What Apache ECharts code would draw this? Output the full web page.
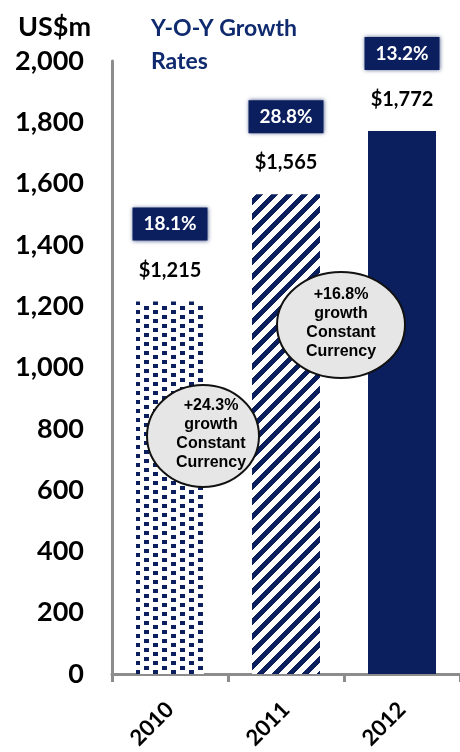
<!DOCTYPE html>
<html>
<head>
<meta charset="utf-8">
<script src="https://cdn.jsdelivr.net/npm/echarts@6/dist/echarts.min.js"></script>
<style>
  html, body { margin: 0; padding: 0; background: #fff; }
  #chart { width: 460px; height: 752px; }
</style>
</head>
<body>
<div id="chart"></div>
<script>
// Revenue by year (US$m) and year-on-year growth
const years = ['2010', '2011', '2012'];
const revenue = [1215, 1565, 1772];
const yoyGrowth = ['18.1%', '28.8%', '13.2%'];
// Constant-currency growth callouts
const ccGrowth = ['+24.3%', '+16.8%'];
const yTicks = [0, 200, 400, 600, 800, 1000, 1200, 1400, 1600, 1800, 2000];

const NAVY = '#0b1f5e';
const FONT = 'Lato, "Open Sans", sans-serif';

// Tile with staggered small squares
function dotTile() {
  const c = document.createElement('canvas');
  c.width = 18; c.height = 18;
  const g = c.getContext('2d');
  g.fillStyle = '#fff'; g.fillRect(0, 0, 18, 18);
  g.fillStyle = NAVY;
  [[0, 0], [9, 4], [0, 9], [9, 13]].forEach(([x, y]) => g.fillRect(x, y, 5, 4));
  return c;
}
// Tile with wide up-right diagonal stripes
function stripeTile() {
  const n = 15;
  const c = document.createElement('canvas');
  c.width = n; c.height = n;
  const g = c.getContext('2d');
  const img = g.createImageData(n, n);
  for (let y = 0; y < n; y++) {
    for (let x = 0; x < n; x++) {
      const on = ((x + y) % n) < 7;
      const i = (y * n + x) * 4;
      img.data[i] = on ? 11 : 255;
      img.data[i + 1] = on ? 31 : 255;
      img.data[i + 2] = on ? 94 : 255;
      img.data[i + 3] = 255;
    }
  }
  g.putImageData(img, 0, 0);
  return c;
}

const fills = [
  { image: dotTile(), repeat: 'repeat' },
  { image: stripeTile(), repeat: 'repeat' },
  NAVY
];

const fmt = v => v.toLocaleString('en-US');

function bubble(cx, cy, rx, ry, tx, text) {
  return {
    type: 'group', z: 100,
    children: [
      { type: 'ellipse', z: 100, shape: { cx, cy, rx, ry },
        style: { fill: '#e6e6e6', stroke: '#111', lineWidth: 2 } },
      { type: 'text', z: 101, x: tx, y: cy - 2,
        style: { text, fill: '#000', font: 'bold 16px "Liberation Sans", Arial, sans-serif',
                 textAlign: 'center', textVerticalAlign: 'middle', lineHeight: 19 } }
    ]
  };
}

const chart = echarts.init(document.getElementById('chart'), null, { renderer: 'canvas' });
chart.setOption({
  animation: false,
  backgroundColor: '#fff',
  title: [
    { text: 'US$m', left: 13, top: 9,
      textStyle: { fontFamily: FONT, fontWeight: 'bold', fontSize: 27, color: '#000' } },
    { text: 'Y-O-Y Growth\nRates', left: 146, top: 7,
      textStyle: { fontFamily: FONT, fontWeight: 'bold', fontSize: 23, color: '#0f2a6e', lineHeight: 33 } }
  ],
  grid: { left: 112, right: 0, top: 61, bottom: 75 },
  xAxis: {
    type: 'category',
    data: years,
    axisLine: { lineStyle: { color: '#8c8c8c', width: 3 } },
    axisTick: { show: true, length: 8, lineStyle: { color: '#8c8c8c', width: 3 } },
    axisLabel: { rotate: 45, margin: 32, color: '#000', fontFamily: FONT, fontWeight: 'bold', fontSize: 22 }
  },
  yAxis: {
    type: 'value',
    min: 0, max: 2000, interval: 200,
    splitLine: { show: false },
    axisTick: { show: false },
    axisLine: { show: true, lineStyle: { color: '#8c8c8c', width: 3 } },
    axisLabel: {
      margin: 28, color: '#000', fontFamily: FONT, fontWeight: 'bold', fontSize: 27,
      formatter: v => yTicks.includes(v) ? fmt(v) : ''
    }
  },
  series: [{
    type: 'bar',
    barWidth: 68,
    data: revenue.map((v, i) => ({ value: v, itemStyle: { color: fills[i] } })),
    label: {
      show: true,
      position: 'top',
      distance: 2,
      formatter: p => `{box|${yoyGrowth[p.dataIndex]}}\n{val|$${fmt(p.value)}}`,
      rich: {
        box: {
          backgroundColor: NAVY, color: '#fff', width: 75, height: 33, lineHeight: 33,
          align: 'center', fontFamily: FONT, fontWeight: 'bold', fontSize: 19,
          shadowBlur: 4, shadowColor: 'rgba(11,31,94,0.7)'
        },
        val: {
          color: '#000', fontFamily: FONT, fontWeight: 'bold', fontSize: 20,
          lineHeight: 59, align: 'center'
        }
      }
    }
  }],
  graphic: [
    bubble(203, 436, 56, 51, 211, `${ccGrowth[0]}\ngrowth\nConstant\nCurrency`),
    bubble(341, 325, 64, 53, 341, `${ccGrowth[1]}\ngrowth\nConstant\nCurrency`)
  ]
});
</script>
</body>
</html>
